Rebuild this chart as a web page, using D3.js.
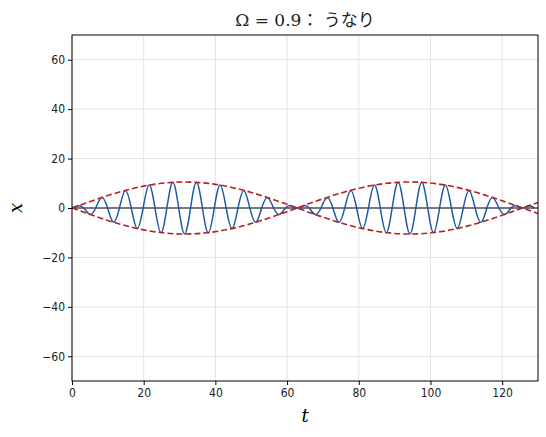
<!DOCTYPE html>
<html><head><meta charset="utf-8">
<script src="https://cdn.jsdelivr.net/npm/d3@7"></script>
<style>body{margin:0;background:#fff}</style>
</head><body>
<script>
// extrema of the fast oscillation (t, x)
const tExt = [1.65,4.96,8.27,11.58,14.88,18.19,21.50,24.81,28.12,31.42,34.73,38.04,41.35,44.66,47.96,51.27,54.58,57.89,61.20,
  64.50,67.81,71.12,74.43,77.74,81.04,84.35,87.66,90.97,94.28,97.58,100.89,104.2,107.5,110.8,114.1,117.4,120.8,124.1,127.4];
const xExt = [0.9,-2.6,4.2,-5.8,7.1,-8.3,9.3,-10.0,10.4,-10.5,10.4,-10.0,9.3,-8.3,7.1,-5.8,4.2,-2.6,0.9,
  0.9,-2.6,4.2,-5.8,7.1,-8.3,9.3,-10.0,10.4,-10.5,10.4,-10.0,9.3,-8.3,7.1,-5.8,4.2,-2.6,0.9,0.9];
// envelope (upper), lower is its mirror
const tEnv = [0,10,20,30,40,50,60,70,80,90,100,110,120,130];
const xEnv = [0,5.05,8.86,10.50,9.57,6.30,1.49,-3.71,-7.97,-10.30,-10.10,-7.43,-2.94,2.26];
const xTicks = [0,20,40,60,80,100,120];
const yTicks = [-60,-40,-20,0,20,40,60];

const W = 546, H = 437, m = {l:72, r:8, t:35, b:56};
const svg = d3.select("body").append("svg").attr("width", W).attr("height", H);
const x = d3.scaleLinear().domain([0,130]).range([m.l, W - m.r]);
const y = d3.scaleLinear().domain([-70,70]).range([H - m.b, m.t]);
const fmt = d => d < 0 ? "\u2212" + Math.abs(d) : d;

// grid
svg.append("g").selectAll("line").data(xTicks).join("line")
  .attr("x1", d => x(d)).attr("x2", d => x(d)).attr("y1", m.t).attr("y2", H - m.b)
  .attr("stroke", "#e3e3e3");
svg.append("g").selectAll("line").data(yTicks).join("line")
  .attr("x1", m.l).attr("x2", W - m.r).attr("y1", d => y(d)).attr("y2", d => y(d))
  .attr("stroke", "#e3e3e3");

const clip = svg.append("clipPath").attr("id", "c").append("rect")
  .attr("x", m.l).attr("y", m.t).attr("width", W - m.l - m.r).attr("height", H - m.t - m.b);
const plot = svg.append("g").attr("clip-path", "url(#c)");

plot.append("line").attr("x1", m.l).attr("x2", W - m.r).attr("y1", y(0)).attr("y2", y(0))
  .attr("stroke", "#000").attr("stroke-width", 1);

// oscillation nodes: zeros between extrema
const pts = [[0,0]];
tExt.forEach((t, i) => {
  pts.push([t, xExt[i]]);
  const tn = i < tExt.length - 1 ? (t + tExt[i+1]) / 2 : t + (t - tExt[i-1]) / 2;
  pts.push([tn, 0]);
});
const line = d3.line().x(d => x(d[0])).y(d => y(d[1])).curve(d3.curveNatural);
plot.append("path").attr("d", line(pts)).attr("fill", "none")
  .attr("stroke", "#1f5aa0").attr("stroke-width", 1.5);

const envU = tEnv.map((t, i) => [t, xEnv[i]]);
const envL = tEnv.map((t, i) => [t, -xEnv[i]]);
[envU, envL].forEach(e => plot.append("path").attr("d", line(e)).attr("fill", "none")
  .attr("stroke", "#b22222").attr("stroke-width", 1.6).attr("stroke-dasharray", "6,3"));

// axes
const ax = svg.append("g").attr("transform", `translate(0,${H - m.b})`)
  .call(d3.axisBottom(x).tickValues(xTicks).tickFormat(fmt).tickSize(4));
const ay = svg.append("g").attr("transform", `translate(${m.l},0)`)
  .call(d3.axisLeft(y).tickValues(yTicks).tickFormat(fmt).tickSize(4));
[ax, ay].forEach(a => {
  a.select(".domain").remove();
  a.selectAll("text").attr("font-family", "'DejaVu Sans Condensed','DejaVu Sans'").attr("font-size", 12).attr("fill", "#222");
});
svg.append("rect").attr("x", m.l).attr("y", m.t).attr("width", W - m.l - m.r).attr("height", H - m.t - m.b)
  .attr("fill", "none").attr("stroke", "#000").attr("stroke-width", 1);

svg.append("text").attr("x", (m.l + W - m.r) / 2).attr("y", 422).attr("text-anchor", "middle")
  .attr("font-family", "'DejaVu Serif'").attr("font-style", "italic").attr("font-size", 18).text("t");
svg.append("text").attr("transform", `translate(22,${y(0)}) rotate(-90)`).attr("text-anchor", "middle")
  .attr("font-family", "'DejaVu Serif'").attr("font-style", "italic").attr("font-size", 18).text("x");
svg.append("text").attr("x", (m.l + W - m.r) / 2).attr("y", 26).attr("text-anchor", "middle")
  .attr("font-family", "'DejaVu Serif','Noto Sans CJK JP'").attr("font-size", 17).attr("fill", "#222")
  .text("Ω = 0.9： うなり");
</script>
</body></html>
